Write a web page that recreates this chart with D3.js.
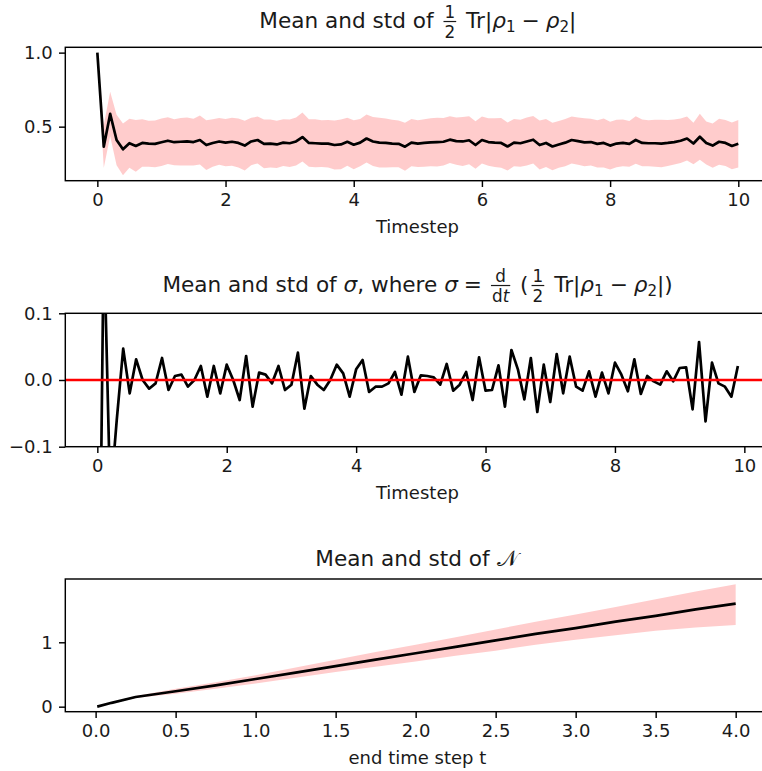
<!DOCTYPE html>
<html><head><meta charset="utf-8">
<script src="https://cdn.jsdelivr.net/npm/d3@7"></script>
<style>
html,body{margin:0;padding:0;background:#fff;}
svg{display:block;}
text{font-family:"DejaVu Sans",sans-serif;fill:#1a1a1a;}
</style></head>
<body>
<svg id="c" width="762" height="771"></svg>
<script>
// ---------------- DATA ----------------
// Panel 1: mean and std of 1/2 Tr|rho1 - rho2| at timesteps 0.0 .. 10.0 (step 0.1)
const traceStep = 0.1;
const traceMean = [
 1.0, 0.365, 0.586, 0.41, 0.347, 0.388, 0.37, 0.39, 0.385, 0.384,
 0.395, 0.405, 0.395, 0.398, 0.40, 0.396, 0.41, 0.376, 0.39, 0.40,
 0.392, 0.398, 0.39, 0.372, 0.40, 0.41, 0.384, 0.386, 0.38, 0.392,
 0.388, 0.40, 0.43, 0.39, 0.388, 0.386, 0.385, 0.376, 0.38, 0.398,
 0.378, 0.392, 0.42, 0.40, 0.392, 0.39, 0.386, 0.384, 0.365, 0.392,
 0.386, 0.39, 0.394, 0.396, 0.398, 0.412, 0.402, 0.40, 0.408, 0.376,
 0.41, 0.396, 0.392, 0.39, 0.366, 0.392, 0.388, 0.40, 0.412, 0.376,
 0.39, 0.366, 0.38, 0.392, 0.41, 0.402, 0.394, 0.396, 0.384, 0.39,
 0.372, 0.386, 0.39, 0.384, 0.41, 0.39, 0.388, 0.388, 0.386, 0.39,
 0.396, 0.405, 0.42, 0.386, 0.432, 0.39, 0.372, 0.398, 0.39, 0.37,
 0.385
];
const traceStd = [
 0.0, 0.145, 0.15, 0.17, 0.175, 0.165, 0.175, 0.16, 0.155, 0.158,
 0.16, 0.158, 0.155, 0.16, 0.162, 0.158, 0.165, 0.168, 0.16, 0.158,
 0.16, 0.162, 0.165, 0.168, 0.16, 0.158, 0.165, 0.162, 0.16, 0.158,
 0.16, 0.162, 0.165, 0.16, 0.162, 0.158, 0.16, 0.165, 0.168, 0.162,
 0.165, 0.16, 0.162, 0.165, 0.168, 0.165, 0.16, 0.158, 0.162, 0.16,
 0.158, 0.16, 0.162, 0.165, 0.16, 0.158, 0.16, 0.165, 0.162, 0.16,
 0.158, 0.16, 0.165, 0.168, 0.162, 0.16, 0.158, 0.162, 0.16, 0.165,
 0.162, 0.16, 0.158, 0.16, 0.158, 0.16, 0.162, 0.158, 0.16, 0.165,
 0.162, 0.16, 0.158, 0.155, 0.16, 0.158, 0.155, 0.158, 0.16, 0.155,
 0.152, 0.15, 0.148, 0.14, 0.155, 0.145, 0.15, 0.155, 0.155, 0.158,
 0.16
];
// Panel 2: mean of sigma (finite difference) at timesteps 0.0 .. 9.9
const sigmaMean = [
 -0.64, 0.22, -0.18, -0.06, 0.047, -0.02, 0.031, 0.0, -0.013, -0.005,
 0.033, -0.015, 0.006, 0.008, -0.01, 0.0, 0.021, -0.025, 0.021, -0.02,
 0.023, 0.0, -0.03, 0.036, -0.04, 0.011, 0.008, -0.005, 0.021, -0.015,
 -0.007, 0.041, -0.043, 0.006, -0.007, -0.015, 0.0, 0.023, 0.01, -0.025,
 0.016, 0.03, -0.018, -0.01, -0.01, -0.005, 0.012, -0.022, 0.035, -0.018,
 0.007, 0.006, 0.004, -0.007, 0.024, -0.016, -0.007, 0.012, -0.03, 0.034,
 -0.016, -0.015, 0.022, -0.04, 0.045, 0.016, -0.029, 0.033, -0.048, 0.023,
 -0.033, 0.039, -0.02, 0.035, -0.01, -0.016, 0.013, -0.025, 0.011, -0.02,
 0.026, 0.008, -0.017, 0.031, -0.021, 0.006, -0.002, -0.007, 0.013, -0.002,
 0.018, 0.019, -0.044, 0.057, -0.062, 0.026, -0.005, -0.01, -0.025, 0.021
];
const sigmaRef = 0.0;
// Panel 3: mean and std of N versus end time step t
const endTimes = [0.01, 0.1, 0.25, 0.5, 0.75, 1.0, 1.25, 1.5, 1.75, 2.0, 2.25, 2.5, 2.75, 3.0, 3.25, 3.5, 3.75, 4.0];
const nMean    = [0.0, 0.06, 0.15, 0.24, 0.33, 0.43, 0.53, 0.63, 0.73, 0.83, 0.93, 1.03, 1.13, 1.22, 1.32, 1.41, 1.51, 1.60];
const nUpper   = [0.0, 0.065, 0.165, 0.28, 0.38, 0.49, 0.61, 0.73, 0.85, 0.96, 1.08, 1.20, 1.32, 1.43, 1.55, 1.67, 1.79, 1.90];
const nLower   = [0.0, 0.055, 0.135, 0.20, 0.28, 0.36, 0.45, 0.54, 0.62, 0.70, 0.79, 0.87, 0.96, 1.04, 1.11, 1.18, 1.23, 1.27];
// tick labels
const ticks1X = [0, 2, 4, 6, 8, 10], ticks1Y = [0.5, 1.0];
const ticks2X = [0, 2, 4, 6, 8, 10], ticks2Y = [-0.1, 0.0, 0.1];
const ticks3X = [0.0, 0.5, 1.0, 1.5, 2.0, 2.5, 3.0, 3.5, 4.0], ticks3Y = [0, 1];

// ---------------- STYLE ----------------
const S = 1.8;            // px per pt
const TICK_FS = 10 * S, TITLE_FS = 12 * S;
const TICK_LEN = 3.5 * S, PAD = 3.5 * S;
const LEFT = 65.3, RIGHT = 769.5;
const svg = d3.select('#c');
const minus = s => s.replace('-', '\u2212');

function axesFrame(id, top, bottom, x, y, xt, yt, xfmt, yfmt, xlabel) {
  const g = svg.append('g');
  g.append('clipPath').attr('id', id).append('rect')
    .attr('x', LEFT).attr('y', top).attr('width', RIGHT - LEFT).attr('height', bottom - top);
  const plot = g.append('g').attr('clip-path', `url(#${id})`);
  const ax = g.append('g');
  const xa = d3.axisBottom(x).tickValues(xt).tickFormat(xfmt).tickSize(TICK_LEN).tickPadding(PAD);
  const xg = ax.append('g').attr('transform', `translate(0,${bottom})`).call(xa);
  const ya = d3.axisLeft(y).tickValues(yt).tickFormat(yfmt).tickSize(TICK_LEN).tickPadding(PAD);
  const yg = ax.append('g').attr('transform', `translate(${LEFT},0)`).call(ya);
  [xg, yg].forEach(a => {
    a.select('.domain').remove();
    a.selectAll('line').attr('stroke', '#000').attr('stroke-width', 0.8 * S);
    a.selectAll('text').attr('font-size', TICK_FS).attr('font-family', 'DejaVu Sans').attr('fill', '#1a1a1a');
  });
  ax.append('rect').attr('x', LEFT).attr('y', top).attr('width', RIGHT - LEFT).attr('height', bottom - top)
    .attr('fill', 'none').attr('stroke', '#000').attr('stroke-width', 0.8 * S);
  if (xlabel) {
    ax.append('text').attr('x', (LEFT + RIGHT) / 2).attr('y', bottom + 52)
      .attr('text-anchor', 'middle').attr('font-size', TICK_FS).text(xlabel);
  }
  return plot;
}

// Math title builder: text runs, stacked fractions, subscripts, spaced operators
function mathTitle(cx, baseline, pieces) {
  const g = svg.append('g');
  let cur = 0;
  const fs = TITLE_FS, small = TITLE_FS * 0.7, fracFs = TITLE_FS * 0.78;
  const addText = (x, y, segs, size) => {
    const t = g.append('text').attr('x', x).attr('y', y).attr('font-size', size).style('white-space', 'pre');
    segs.forEach(s => {
      const ts = t.append('tspan').text(s.t);
      if (s.it) ts.attr('font-style', 'italic');
    });
    return t;
  };
  pieces.forEach(p => {
    if (p.frac) {
      const n = addText(0, 0, p.frac[0], fracFs);
      const d = addText(0, 0, p.frac[1], fracFs);
      const wn = n.node().getComputedTextLength(), wd = d.node().getComputedTextLength();
      const w = Math.max(wn, wd) + 2;
      const barY = baseline - fs * 0.3;
      n.attr('x', cur + 3 + (w - wn) / 2).attr('y', barY - 4);
      d.attr('x', cur + 3 + (w - wd) / 2).attr('y', barY + fracFs * 0.74 + 4);
      g.append('line').attr('x1', cur + 3).attr('x2', cur + 3 + w).attr('y1', barY).attr('y2', barY)
        .attr('stroke', '#1a1a1a').attr('stroke-width', 1.2);
      cur += w + 6;
    } else if (p.sub) {
      const t = addText(cur, baseline + fs * 0.2, [{t: p.sub}], small);
      cur += t.node().getComputedTextLength();
    } else if (p.op) {
      cur += p.pad;
      const t = addText(cur, baseline, [{t: p.op}], fs);
      cur += t.node().getComputedTextLength() + p.pad;
    } else {
      const t = addText(cur, baseline, [{t: p.t, it: p.it}], fs);
      cur += t.node().getComputedTextLength();
    }
  });
  g.attr('transform', `translate(${cx - cur / 2},0)`);
}

// ---------------- PANEL 1 ----------------
{
  const top = 47.3, bottom = 180.7;
  const x = d3.scaleLinear().domain([-0.5, 10.5]).range([LEFT, 770.35]);
  const y = d3.scaleLinear().domain([0.135, 1.036]).range([bottom, top]);
  const plot = axesFrame('clip1', top, bottom, x, y, ticks1X, ticks1Y, d3.format('d'), d3.format('.1f'), 'Timestep');
  const rows = traceMean.map((m, i) => ({t: i * traceStep, m, s: traceStd[i]}));
  plot.append('path').datum(rows).attr('fill', '#ff0000').attr('fill-opacity', 0.2)
    .attr('d', d3.area().x(d => x(d.t)).y0(d => y(d.m - d.s)).y1(d => y(d.m + d.s)));
  plot.append('path').datum(rows).attr('fill', 'none').attr('stroke', '#000').attr('stroke-width', 1.5 * S)
    .attr('stroke-linejoin', 'round')
    .attr('d', d3.line().x(d => x(d.t)).y(d => y(d.m)));
  mathTitle((LEFT + 770.35) / 2, 28, [
    {t: 'Mean and std of '}, {frac: [[{t: '1'}], [{t: '2'}]]}, {t: ' Tr|'}, {t: 'ρ', it: true}, {sub: '1'},
    {op: '−', pad: 6}, {t: 'ρ', it: true}, {sub: '2'}, {t: '|'}
  ]);
}

// ---------------- PANEL 2 ----------------
{
  const top = 313.3, bottom = 446.7;
  const x = d3.scaleLinear().domain([-0.495, 10.395]).range([LEFT, 769.9]);
  const y = d3.scaleLinear().domain([-0.1, 0.1]).range([bottom, top]);
  const plot = axesFrame('clip2', top, bottom, x, y, ticks2X, ticks2Y, d3.format('d'), v => minus(d3.format('.1f')(v)), 'Timestep');
  const rows = sigmaMean.map((m, i) => ({t: i * traceStep, m}));
  plot.append('path').datum(rows).attr('fill', 'none').attr('stroke', '#000').attr('stroke-width', 1.5 * S)
    .attr('stroke-linejoin', 'round')
    .attr('d', d3.line().x(d => x(d.t)).y(d => y(d.m)));
  plot.append('line').attr('x1', LEFT).attr('x2', RIGHT).attr('y1', y(sigmaRef)).attr('y2', y(sigmaRef))
    .attr('stroke', '#ff0000').attr('stroke-width', 1.5 * S);
  mathTitle((LEFT + 769.9) / 2, 292, [
    {t: 'Mean and std of '}, {t: 'σ', it: true}, {t: ', where '}, {t: 'σ', it: true}, {op: '=', pad: 6},
    {frac: [[{t: 'd'}], [{t: 'd'}, {t: 't', it: true}]]}, {t: ' ('},
    {frac: [[{t: '1'}], [{t: '2'}]]}, {t: ' Tr|'}, {t: 'ρ', it: true}, {sub: '1'},
    {op: '−', pad: 6}, {t: 'ρ', it: true}, {sub: '2'}, {t: '|)'}
  ]);
}

// ---------------- PANEL 3 ----------------
{
  const top = 579, bottom = 711.7;
  const x = d3.scaleLinear().domain([-0.1895, 4.1995]).range([LEFT, 767.6]);
  const y = d3.scaleLinear().domain([-0.078, 1.983]).range([bottom, top]);
  const plot = axesFrame('clip3', top, bottom, x, y, ticks3X, ticks3Y, d3.format('.1f'), d3.format('d'), 'end time step t');
  const rows = endTimes.map((t, i) => ({t, m: nMean[i], lo: nLower[i], hi: nUpper[i]}));
  plot.append('path').datum(rows).attr('fill', '#ff0000').attr('fill-opacity', 0.2)
    .attr('d', d3.area().x(d => x(d.t)).y0(d => y(d.lo)).y1(d => y(d.hi)));
  plot.append('path').datum(rows).attr('fill', 'none').attr('stroke', '#000').attr('stroke-width', 1.5 * S)
    .attr('stroke-linejoin', 'round')
    .attr('d', d3.line().x(d => x(d.t)).y(d => y(d.m)));
  mathTitle((LEFT + 767.6) / 2, 566, [
    {t: 'Mean and std of '}, {t: '𝒩'}
  ]);
}
</script>
</body></html>
